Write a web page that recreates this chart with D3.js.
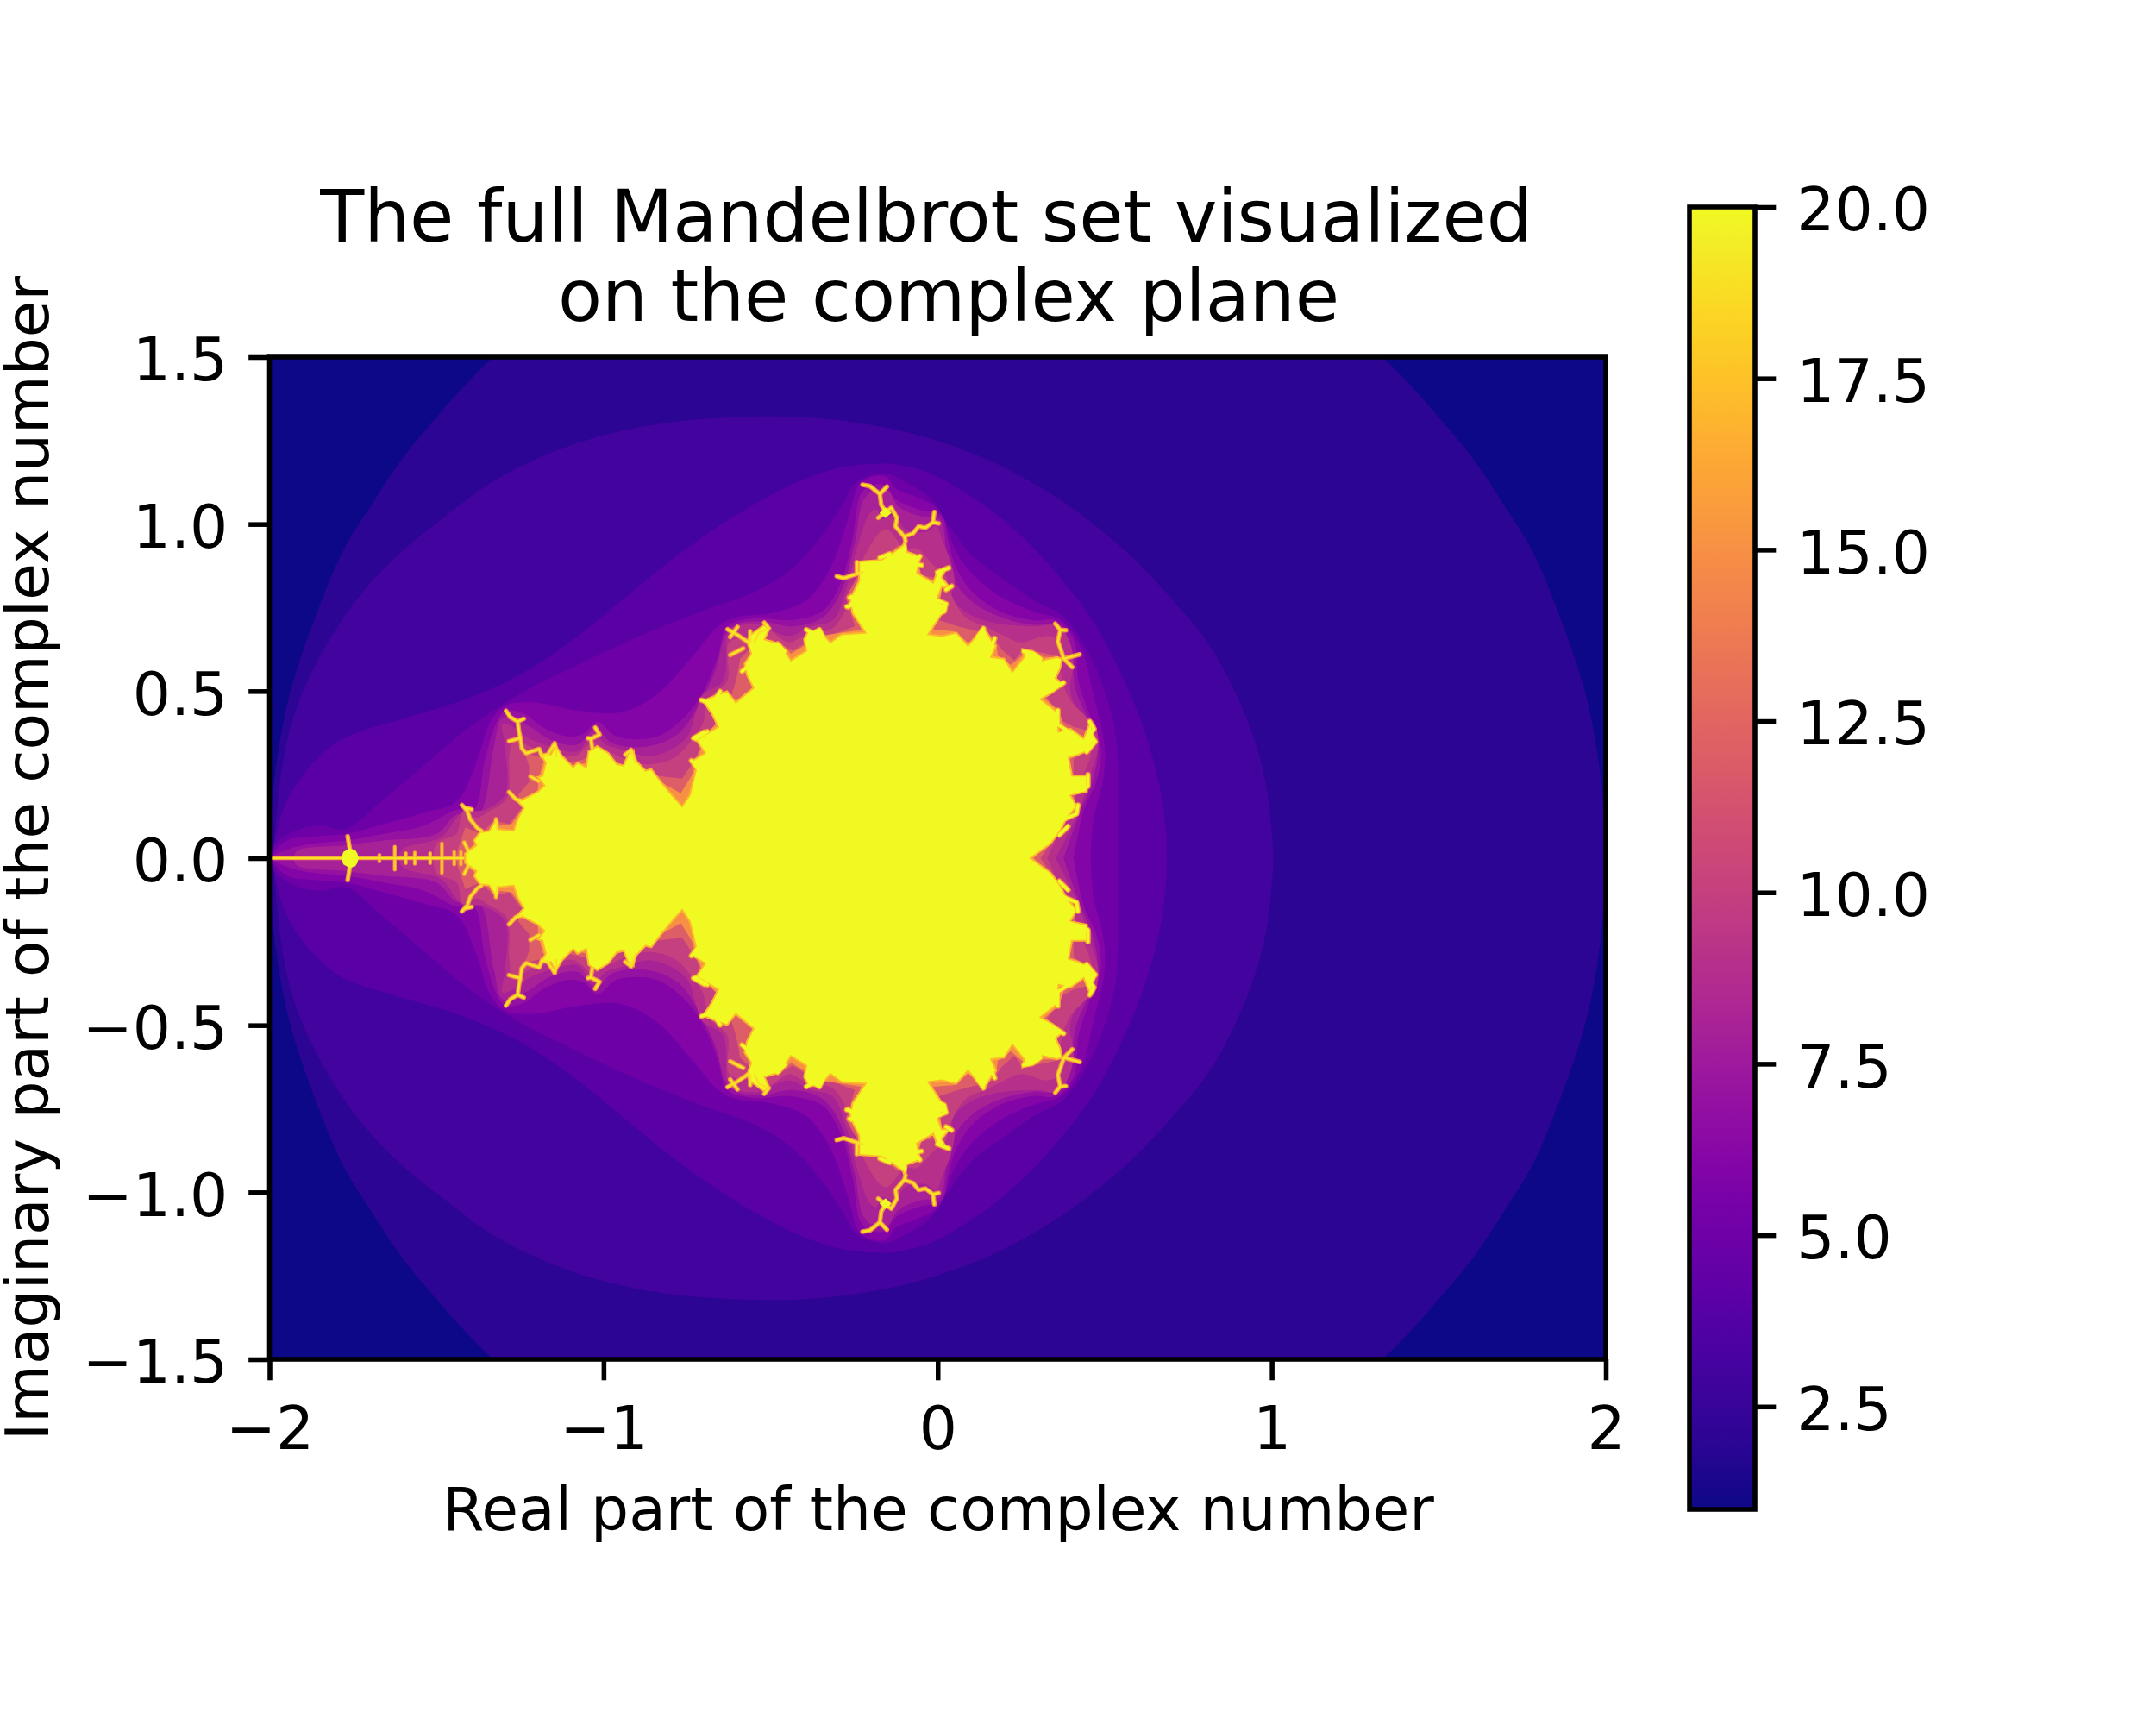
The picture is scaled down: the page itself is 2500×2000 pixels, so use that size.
<!DOCTYPE html>
<html>
<head>
<meta charset="utf-8">
<script src="https://cdn.jsdelivr.net/npm/d3@7"></script>
<style>
body { margin: 0; background: #fff; }
text { font-family: "DejaVu Sans", sans-serif; fill: #000; }
</style>
</head>
<body>
<svg id="canvas" width="2500" height="2000"></svg>
<script>
// upper half of each iteration band outline, [real, imag].
// the lower half is the mirror image
let level2 = [[-2,0],[-1.985,.24],[-1.94,.49],[-1.86,.73],[-1.78,.92],[-1.7,1.05],[-1.6,1.2],[-1.5,1.32],[-1.43,1.4],[-1.33,1.5],[-1.2,1.6],[-.7,1.87],[0,2],[.7,1.87],[1.2,1.6],[1.33,1.5],[1.43,1.4],[1.5,1.32],[1.6,1.2],[1.7,1.05],[1.78,.92],[1.86,.73],[1.94,.49],[1.985,.24],[2,0]]
let level3 = [[-1.99,0],[-1.967,.238],[-1.934,.403],[-1.868,.568],[-1.737,.777],[-1.605,.917],[-1.473,1.024],[-1.342,1.121],[-1.21,1.191],[-1.078,1.243],[-.946,1.279],[-.815,1.303],[-.683,1.316],[-.551,1.322],[-.42,1.321],[-.288,1.31],[-.156,1.289],[-.028,1.258],[.17,1.184],[.367,1.073],[.565,.917],[.713,.762],[.812,.64],[.891,.497],[.951,.345],[.985,.209],[1.003,.044],[1.005,0]]
let level4 = [[-1.99,0],[-1.98,.073],[-1.934,.199],[-1.802,.345],[-1.605,.417],[-1.473,.456],[-1.342,.505],[-1.21,.573],[-1.078,.665],[-.946,.772],[-.815,.879],[-.683,.976],[-.551,1.058],[-.42,1.126],[-.288,1.17],[-.156,1.182],[-.126,1.18],[-.028,1.155],[.071,1.102],[.17,1.034],[.269,.947],[.367,.84],[.466,.709],[.565,.519],[.625,.364],[.664,.218],[.684,.073],[.686,0]]
let level5 = [[-1.987,.034],[-1.921,.083],[-1.842,.097],[-1.77,.087],[-1.671,.165],[-1.539,.277],[-1.407,.388],[-1.262,.485],[-1.078,.578],[-.881,.67],[-.683,.748],[-.551,.796],[-.446,.859],[-.354,.956],[-.288,1.053],[-.242,1.126],[-.156,1.152],[-.097,1.126],[-.028,1.083],[.042,.985],[.101,.908],[.19,.84],[.288,.772],[.377,.723],[.456,.607],[.506,.48],[.535,.354],[.54,.189],[.54,0]]
let level6 = [[-1.99,.01],[-1.947,.053],[-1.868,.065],[-1.77,.073],[-1.658,.102],[-1.539,.136],[-1.44,.17],[-1.381,.286],[-1.342,.403],[-1.295,.456],[-1.21,.466],[-1.078,.442],[-.946,.437],[-.841,.49],[-.736,.602],[-.657,.694],[-.604,.721],[-.499,.733],[-.393,.772],[-.321,.869],[-.268,1.015],[-.229,1.126],[-.156,1.143],[-.126,1.107],[-.057,1.078],[.002,1.044],[.051,.927],[.101,.854],[.19,.782],[.288,.738],[.367,.714],[.427,.636],[.466,.49],[.5,.335],[.496,.238],[.466,.112],[.458,0]]
let level7 = [[-1.989,.005],[-1.921,.034],[-1.868,.044],[-1.77,.053],[-1.658,.073],[-1.539,.097],[-1.44,.145],[-1.388,.145],[-1.355,.296],[-1.322,.403],[-1.295,.442],[-1.236,.432],[-1.183,.393],[-1.104,.364],[-1.058,.374],[-1.019,.408],[-.96,.364],[-.841,.364],[-.749,.432],[-.696,.51],[-.657,.607],[-.63,.694],[-.551,.718],[-.433,.713],[-.341,.743],[-.288,.83],[-.255,.956],[-.229,1.092],[-.196,1.116],[-.156,1.116],[-.126,1.075],[-.057,1.044],[.012,1.024],[.032,.947],[.056,.869],[.11,.791],[.2,.733],[.288,.712],[.353,.712],[.407,.655],[.422,.529],[.461,.412],[.488,.335],[.478,.238],[.437,.141],[.407,0]]
let level8 = [[-1.921,.019],[-1.776,.039],[-1.658,.053],[-1.5,.073],[-1.44,.131],[-1.374,.131],[-1.328,.335],[-1.302,.422],[-1.236,.403],[-1.157,.354],[-1.078,.34],[-1.023,.388],[-.973,.344],[-.867,.335],[-.775,.374],[-.709,.471],[-.663,.568],[-.637,.665],[-.604,.699],[-.525,.709],[-.433,.694],[-.341,.723],[-.288,.801],[-.248,.947],[-.222,1.073],[-.189,1.102],[-.151,1.102],[-.117,1.053],[-.052,1.024],[.007,1.014],[.027,.917],[.051,.83],[.11,.762],[.2,.718],[.288,.699],[.353,.699],[.397,.641],[.412,.51],[.447,.422],[.478,.335],[.466,.238],[.427,.141],[.377,0]]
let level9 = [[-1.605,.024],[-1.486,.063],[-1.44,.121],[-1.414,.145],[-1.381,.141],[-1.355,.145],[-1.295,.189],[-1.295,.335],[-1.302,.403],[-1.262,.388],[-1.223,.359],[-1.144,.33],[-1.078,.32],[-1.028,.374],[-.993,.34],[-.946,.325],[-.867,.306],[-.808,.32],[-.749,.364],[-.725,.432],[-.703,.49],[-.643,.529],[-.63,.665],[-.617,.689],[-.525,.699],[-.499,.684],[-.446,.665],[-.38,.694],[-.314,.713],[-.275,.801],[-.242,.927],[-.202,1.034],[-.183,1.044],[-.166,1.015],[-.126,1.024],[-.097,.985],[-.037,.976],[-.003,.995],[.012,.956],[.042,.879],[.051,.82],[.042,.781],[.091,.733],[.17,.704],[.298,.694],[.358,.699],[.392,.655],[.407,.587],[.397,.5],[.427,.432],[.466,.412],[.481,.335],[.456,.247],[.422,.141],[.353,0]]
let level10 = [[-1.5,.044],[-1.44,.073],[-1.421,.136],[-1.381,.121],[-1.342,.141],[-1.289,.18],[-1.282,.306],[-1.269,.364],[-1.223,.335],[-1.144,.311],[-1.085,.306],[-1.032,.344],[-.986,.32],[-.933,.296],[-.867,.281],[-.788,.301],[-.736,.354],[-.703,.403],[-.683,.48],[-.63,.529],[-.624,.646],[-.564,.665],[-.512,.684],[-.446,.646],[-.393,.67],[-.314,.689],[-.262,.772],[-.222,.898],[-.156,.985],[-.097,.927],[-.062,.927],[-.013,.878],[.022,.849],[.036,.801],[.081,.723],[.14,.694],[.18,.675],[.249,.646],[.328,.665],[.368,.645],[.368,.558],[.392,.48],[.457,.403],[.462,.325],[.432,.238],[.392,.141],[.328,0]]
let level12 = [[-1.44,.014],[-1.414,.092],[-1.368,.073],[-1.328,.112],[-1.282,.102],[-1.243,.155],[-1.256,.189],[-1.223,.228],[-1.223,.277],[-1.236,.315],[-1.183,.301],[-1.104,.286],[-1.058,.296],[-1.025,.32],[-.986,.296],[-.933,.267],[-.867,.257],[-.841,.247],[-.765,.238],[-.725,.296],[-.703,.354],[-.657,.412],[-.67,.461],[-.617,.49],[-.604,.529],[-.591,.597],[-.551,.636],[-.499,.655],[-.433,.621],[-.393,.646],[-.327,.665],[-.248,.694],[-.275,.781],[-.242,.84],[-.222,.879],[-.156,.908],[-.117,.937],[-.097,.918],[-.067,.888],[-.057,.849],[-.013,.84],[.002,.801],[.002,.752],[.002,.713],[.061,.694],[.12,.679],[.165,.665],[.19,.626],[.229,.592],[.259,.626],[.308,.616],[.358,.606],[.358,.548],[.358,.51],[.328,.48],[.372,.412],[.407,.393],[.447,.383],[.452,.325],[.407,.296],[.407,.247],[.417,.199],[.397,.141],[.358,.072],[.308,0]]
let level15 = [[-1.418,.014],[-1.381,.048],[-1.322,.097],[-1.276,.102],[-1.236,.155],[-1.197,.204],[-1.194,.238],[-1.181,.286],[-1.131,.291],[-1.091,.275],[-1.052,.286],[-1.019,.315],[-.96,.286],[-.92,.275],[-.867,.257],[-.828,.228],[-.769,.194],[-.736,.247],[-.716,.311],[-.683,.383],[-.657,.408],[-.676,.442],[-.643,.471],[-.604,.471],[-.551,.514],[-.571,.568],[-.531,.631],[-.472,.646],[-.439,.612],[-.4,.636],[-.354,.665],[-.288,.675],[-.229,.684],[-.262,.772],[-.235,.84],[-.209,.879],[-.156,.898],[-.117,.927],[-.097,.908],[-.057,.879],[-.047,.84],[-.013,.83],[.012,.801],[.002,.743],[-.013,.684],[.051,.679],[.091,.645],[.14,.675],[.175,.645],[.18,.607],[.219,.578],[.259,.612],[.308,.602],[.363,.602],[.358,.553],[.358,.524],[.318,.48],[.363,.442],[.382,.383],[.417,.369],[.427,.31],[.392,.296],[.407,.238],[.392,.189],[.407,.141],[.368,.092],[.328,.043],[.288,0]]
let setOutline = [[-1.414,0],[-1.414,.014],[-1.381,.039],[-1.388,.053],[-1.37,.078],[-1.342,.082],[-1.322,.116],[-1.315,.087],[-1.269,.082],[-1.256,.121],[-1.239,.15],[-1.262,.175],[-1.243,.175],[-1.197,.199],[-1.177,.218],[-1.197,.243],[-1.183,.247],[-1.173,.286],[-1.19,.311],[-1.157,.311],[-1.144,.34],[-1.124,.306],[-1.091,.272],[-1.078,.286],[-1.052,.272],[-1.045,.32],[-1.019,.335],[-.986,.315],[-.96,.281],[-.94,.277],[-.927,.311],[-.91,.323],[-.907,.296],[-.874,.262],[-.857,.267],[-.828,.228],[-.795,.189],[-.765,.155],[-.742,.189],[-.723,.267],[-.736,.291],[-.696,.315],[-.723,.354],[-.683,.378],[-.657,.393],[-.676,.432],[-.703,.471],[-.657,.49],[-.63,.5],[-.604,.466],[-.551,.51],[-.571,.548],[-.578,.582],[-.558,.612],[-.571,.65],[-.558,.67],[-.518,.699],[-.505,.684],[-.518,.655],[-.472,.641],[-.439,.592],[-.393,.621],[-.4,.655],[-.387,.68],[-.354,.684],[-.321,.646],[-.288,.67],[-.216,.675],[-.255,.733],[-.262,.777],[-.235,.83],[-.235,.859],[-.235,.888],[-.169,.893],[-.136,.913],[-.104,.937],[-.097,.956],[-.092,.917],[-.052,.903],[-.062,.854],[-.013,.825],[-.003,.854],[.027,.869],[.012,.84],[.036,.811],[.012,.811],[-.003,.772],[.022,.757],[.007,.723],[-.028,.67],[.012,.665],[.056,.675],[.091,.636],[.115,.665],[.14,.689],[.165,.646],[.175,.636],[.16,.602],[.199,.597],[.224,.558],[.259,.602],[.254,.626],[.298,.612],[.313,.592],[.358,.602],[.372,.597],[.367,.568],[.353,.539],[.372,.524],[.343,.495],[.308,.476],[.358,.437],[.362,.379],[.397,.388],[.437,.359],[.457,.408],[.471,.354],[.447,.32],[.422,.31],[.392,.301],[.402,.247],[.447,.247],[.447,.199],[.397,.189],[.417,.155],[.387,.121],[.367,.082],[.338,.043],[.278,0]]

let filaments = [
  [[-.225,1.118],[-.203,1.114],[-.173,1.09],[-.169,1.058],[-.156,1.036],[-.139,1.049],[-.122,1.019],[-.126,.993],[-.1,.963],[-.096,.95]],
  [[-.173,1.09],[-.152,1.112]],
  [[-.178,1.019],[-.156,1.036]],
  [[-.1,.963],[-.074,.972],[-.057,.993],[-.036,.989],[-.014,1.006],[.003,1.002]],
  [[-.014,1.006],[-.01,1.036]],
  [[-.302,.844],[-.281,.838],[-.242,.851],[-.225,.856]],
  [[-.242,.851],[-.242,.886]],
  [[.352,.702],[.367,.683],[.36,.649],[.378,.597],[.425,.61]],
  [[.367,.683],[.384,.682]],
  [[.378,.597],[.403,.572]],
  [[-.629,.685],[-.597,.667],[-.565,.645]],
  [[-.599,.692],[-.621,.662]],
  [[-.561,.679],[-.561,.649]],
  [[-.519,.705],[-.505,.688],[-.535,.675],[-.548,.649]],
  [[-.621,.608],[-.582,.628]],
  [[-1.292,.441],[-1.279,.422],[-1.257,.409],[-1.253,.379],[-1.249,.359],[-1.245,.329],[-1.232,.314],[-1.193,.327],[-1.184,.305]],
  [[-1.257,.409],[-1.239,.417]],
  [[-1.283,.35],[-1.249,.359]],
  [[-1.184,.305],[-1.167,.31],[-1.146,.344],[-1.141,.305]],
  [[-1.025,.391],[-1.012,.37],[-1.038,.357],[-1.047,.359]],
  [[-1.038,.357],[-1.034,.33]],
  [[-.918,.324],[-.935,.31]],
  [[-.918,.324],[-.905,.288]],
  [[-1.424,.159],[-1.408,.142],[-1.399,.116],[-1.378,.09],[-1.365,.082]],
  [[-1.412,.15],[-1.395,.146]],
  [[-1.283,.198],[-1.262,.176],[-1.245,.172]],
  [[-1.219,.245],[-1.193,.23]],
  [[-1.322,.116],[-1.318,.086]],
  [[-1.417,.047],[-1.404,.021]],
  [[-1.766,.065],[-1.759,.024]]
]
// short teeth on the edge of the body
let edgeTeeth = [
  [[-.707,.473],[-.672,.46]],
  [[-.724,.357],[-.689,.379]],
  [[-.651,.499],[-.664,.478]],
  [[-.731,.359],[-.698,.378]],
  [[-.737,.292],[-.72,.27]],
  [[-.393,.684],[-.371,.671],[-.354,.684],[-.341,.658]],
  [[-.479,.641],[-.496,.634]],
  [[-.479,.641],[-.457,.619]],
  [[-.586,.559],[-.561,.58]],
  [[-.272,.753],[-.242,.761]],
  [[-.259,.783],[-.242,.761]],
  [[.025,.761],[-.005,.774]],
  [[.025,.761],[-.001,.735]],
  [[-.173,.899],[-.143,.911],[-.152,.886]],
  [[-.053,.903],[-.07,.881],[-.048,.877]],
  [[.033,.869],[-.001,.856]],
  [[.042,.814],[.025,.804]],
  [[-.268,.752],[-.242,.778],[-.264,.78]],
  [[.025,.761],[.02,.739],[-.005,.727]],
  [[.137,.688],[.119,.662],[.162,.636]],
  [[.171,.658],[.162,.636]],
  [[.257,.619],[.283,.615],[.309,.597]],
  [[.455,.409],[.468,.387],[.455,.37],[.472,.349],[.446,.318],[.437,.34]],
  [[.45,.25],[.45,.215],[.394,.194]],
  [[.42,.159],[.416,.133],[.377,.116]],
  [[.39,.095],[.364,.069]],
  [[.377,.525],[.343,.503]],
  [[.36,.443],[.36,.4],[.386,.383]]
]
let antenna = [[-1.99,0],[-1.42,0]]
// [real part, half height] of the little spikes on the antenna
let antennaSpikes = [[-1.671,.01],[-1.625,.034],[-1.592,.015],[-1.565,.017],[-1.519,.015],[-1.484,.044],[-1.447,.019],[-1.427,.019]]
let miniSets = [
  [[-1.785,0],[-1.779,.019],[-1.77,.024],[-1.759,.029],[-1.743,.024],[-1.737,.014],[-1.733,0]],
  [[-.174,1.034],[-.156,1.05],[-.138,1.034],[-.156,1.018]]
]

let smoothLevels = [
  {level: 2, points: level2},
  {level: 3, points: level3},
  {level: 4, points: level4},
  {level: 5, points: level5},
  {level: 6, points: level6},
  {level: 7, points: level7},
  {level: 8, points: level8},
  {level: 9, points: level9},
  {level: 10, points: level10}
]
let sharpLevels = [
  {level: 12, points: level12},
  {level: 15, points: level15}
]

let xTicks = [-2, -1, 0, 1, 2]
let yTicks = [-1.5, -1, -.5, 0, .5, 1, 1.5]
let barTicks = [2.5, 5, 7.5, 10, 12.5, 15, 17.5, 20]

let spineWidth = 5.55
let tickLength = 24.3
let tickFont = 69.5

let canvas = d3.select('#canvas')

let x = d3.scaleLinear().domain([-2, 2]).range([312.5, 1862])
let y = d3.scaleLinear().domain([-1.5, 1.5]).range([1576, 414])
let barY = d3.scaleLinear().domain([1, 20]).range([1750, 240])
let color = d3.scaleSequential(d3.interpolatePlasma).domain([1, 20])

let mirror = (points) => {
    let lower = points.slice().reverse().map((p) => [p[0], -p[1]])
    return points.concat(lower)
}
let flip = (line) => line.map((p) => [p[0], -p[1]])

let smoothArea = d3.line().x((d) => x(d[0])).y((d) => y(d[1])).curve(d3.curveCatmullRomClosed)
let sharpArea = d3.line().x((d) => x(d[0])).y((d) => y(d[1])).curve(d3.curveLinearClosed)
let branch = d3.line().x((d) => x(d[0])).y((d) => y(d[1]))

canvas.append('clipPath')
        .attr('id', 'plot-clip')
        .append('rect')
        .attr('x', x(-2))
        .attr('y', y(1.5))
        .attr('width', x(2) - x(-2))
        .attr('height', y(-1.5) - y(1.5))

let plot = canvas.append('g').attr('clip-path', 'url(#plot-clip)')

plot.append('rect')
        .attr('x', x(-2))
        .attr('y', y(1.5))
        .attr('width', x(2) - x(-2))
        .attr('height', y(-1.5) - y(1.5))
        .attr('fill', color(1))

plot.selectAll('.smooth-band')
        .data(smoothLevels)
        .enter()
        .append('path')
        .attr('class', 'smooth-band')
        .attr('d', (d) => smoothArea(mirror(d.points)))
        .attr('fill', (d) => color(d.level))

plot.selectAll('.sharp-band')
        .data(sharpLevels)
        .enter()
        .append('path')
        .attr('class', 'sharp-band')
        .attr('d', (d) => sharpArea(mirror(d.points)))
        .attr('fill', (d) => color(d.level))

// every branch appears above and below the real axis
let allBranches = filaments.concat(filaments.map(flip))
let allTeeth = edgeTeeth.concat(edgeTeeth.map(flip))
let spikeLines = antennaSpikes.map((s) => [[s[0], s[1]], [s[0], -s[1]]])

let drawBranches = (lines, level, width) => {
    plot.append('g')
            .selectAll('path')
            .data(lines)
            .enter()
            .append('path')
            .attr('d', (d) => branch(d))
            .attr('fill', 'none')
            .attr('stroke', color(level))
            .attr('stroke-width', width)
            .attr('stroke-linejoin', 'round')
            .attr('stroke-linecap', 'round')
}

drawBranches(allBranches, 15, 5.5)
drawBranches(allTeeth, 15, 6.5)
drawBranches(spikeLines, 15, 4.5)
drawBranches([antenna], 15, 4.5)

plot.append('path')
        .attr('d', sharpArea(mirror(setOutline)))
        .attr('fill', color(20))
        .attr('stroke', color(17))
        .attr('stroke-width', 2)

drawBranches(allBranches, 19, 2.8)
drawBranches(allTeeth, 20, 3.8)
drawBranches(spikeLines, 18, 2.5)
drawBranches([antenna], 19, 2.5)

plot.selectAll('.mini-set')
        .data([mirror(miniSets[0]), miniSets[1], flip(miniSets[1])])
        .enter()
        .append('path')
        .attr('class', 'mini-set')
        .attr('d', (d) => sharpArea(d))
        .attr('fill', color(20))

// axes
let xAxis = d3.axisBottom(x).tickValues(xTicks).tickFormat(d3.format('d')).tickSize(tickLength).tickPadding(24)
let yAxis = d3.axisLeft(y).tickValues(yTicks).tickFormat(d3.format('.1f')).tickSize(tickLength).tickPadding(24)
let barAxis = d3.axisRight(barY).tickValues(barTicks).tickFormat(d3.format('.1f')).tickSize(tickLength).tickPadding(24)

let styleAxis = (g) => {
    g.select('.domain').remove()
    g.selectAll('line').attr('stroke', '#000').attr('stroke-width', spineWidth)
    g.selectAll('text').attr('font-size', tickFont).attr('font-family', '"DejaVu Sans"').attr('fill', '#000')
}

let xGroup = canvas.append('g').attr('transform', 'translate(0,' + y(-1.5) + ')').call(xAxis).call(styleAxis)
xGroup.selectAll('text').attr('y', 104).attr('dy', 0)
canvas.append('g').attr('transform', 'translate(' + x(-2) + ',0)').call(yAxis).call(styleAxis)
        .selectAll('text').attr('dy', '.385em')

canvas.append('rect')
        .attr('x', x(-2))
        .attr('y', y(1.5))
        .attr('width', x(2) - x(-2))
        .attr('height', y(-1.5) - y(1.5))
        .attr('fill', 'none')
        .attr('stroke', '#000')
        .attr('stroke-width', spineWidth)

// colorbar
let barLeft = 1959
let barRight = 2035
let gradient = canvas.append('defs')
        .append('linearGradient')
        .attr('id', 'bar-gradient')
        .attr('x1', 0).attr('x2', 0).attr('y1', 1).attr('y2', 0)
gradient.selectAll('stop')
        .data(d3.ticks(1, 20, 60))
        .enter()
        .append('stop')
        .attr('offset', (d) => (d - 1) / 19)
        .attr('stop-color', (d) => color(d))

canvas.append('rect')
        .attr('x', barLeft)
        .attr('y', barY(20))
        .attr('width', barRight - barLeft)
        .attr('height', barY(1) - barY(20))
        .attr('fill', 'url(#bar-gradient)')
        .attr('stroke', '#000')
        .attr('stroke-width', spineWidth)

canvas.append('g').attr('transform', 'translate(' + barRight + ',0)').call(barAxis).call(styleAxis)
        .selectAll('text').attr('dy', '.385em')

// labels
let titleLines = [
  {text: 'The full Mandelbrot set visualized', x: 1074, y: 280},
  {text: 'on the complex plane', x: 1100, y: 372}
]
canvas.selectAll('.title')
        .data(titleLines)
        .enter()
        .append('text')
        .attr('class', 'title')
        .attr('x', (d) => d.x)
        .attr('y', (d) => d.y)
        .attr('text-anchor', 'middle')
        .attr('font-size', 83.5)
        .text((d) => d.text)

canvas.append('text')
        .attr('x', 1088)
        .attr('y', 1774)
        .attr('text-anchor', 'middle')
        .attr('font-size', tickFont)
        .text('Real part of the complex number')

canvas.append('text')
        .attr('transform', 'translate(56,995) rotate(-90)')
        .attr('text-anchor', 'middle')
        .attr('font-size', tickFont)
        .text('Imaginary part of the complex number')
</script>
</body>
</html>
